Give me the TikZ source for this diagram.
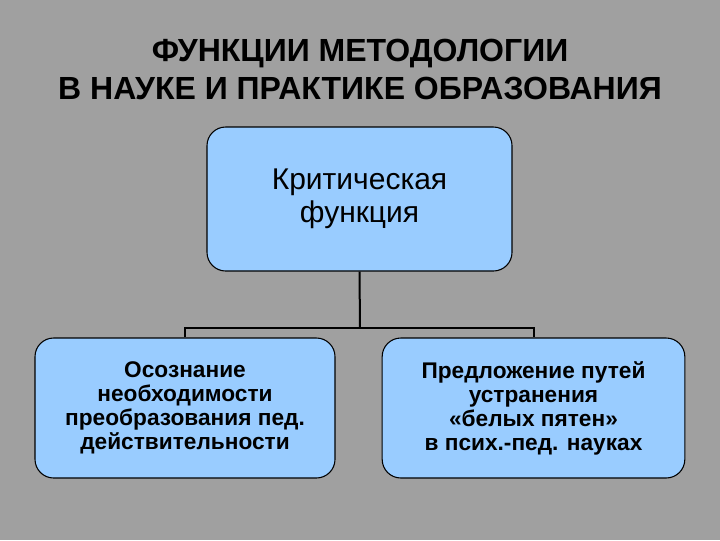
\documentclass[tikz,border=0pt]{standalone}
\usepackage{fontspec}
\setmainfont{Liberation Sans}
\definecolor{bg}{RGB}{160,160,160}
\definecolor{boxc}{RGB}{153,204,255}
\begin{document}
\begin{tikzpicture}[x=0.75pt,y=-0.75pt,
  box/.style={draw=black,line width=0.8pt,fill=boxc,rounded corners=14pt,align=center,inner sep=0pt},
  conn/.style={draw=black,line width=1.5pt}]
\fill[bg] (0,0) rectangle (720,540);
\useasboundingbox (0,0) rectangle (720,540);
\node[font=\fontsize{24}{28.5}\selectfont\bfseries,align=center] (title) at (360,69) {ФУНКЦИИ МЕТОДОЛОГИИ\\В НАУКЕ И ПРАКТИКЕ ОБРАЗОВАНИЯ};
\node[box,minimum width=228.75pt,minimum height=108pt,font=\fontsize{22.5}{25}\selectfont] (top) at (359.5,199) {Критическая\\функция};
\node[box,minimum width=225pt,minimum height=105pt,font=\fontsize{17}{18}\selectfont\bfseries] (l) at (185,408) {Осознание\\необходимости\\преобразования пед.\\действительности};
\node[box,minimum width=227pt,minimum height=105pt,font=\fontsize{17}{18}\selectfont\bfseries] (r) at (533.5,408) {Предложение путей\\устранения\\«белых пятен»\\в псих.-пед. науках};
\coordinate (j) at (360,328);
\draw[conn] (top.south) -- (j);
\draw[conn] (l.north) |- (j) -| (r.north);
\end{tikzpicture}
\end{document}
